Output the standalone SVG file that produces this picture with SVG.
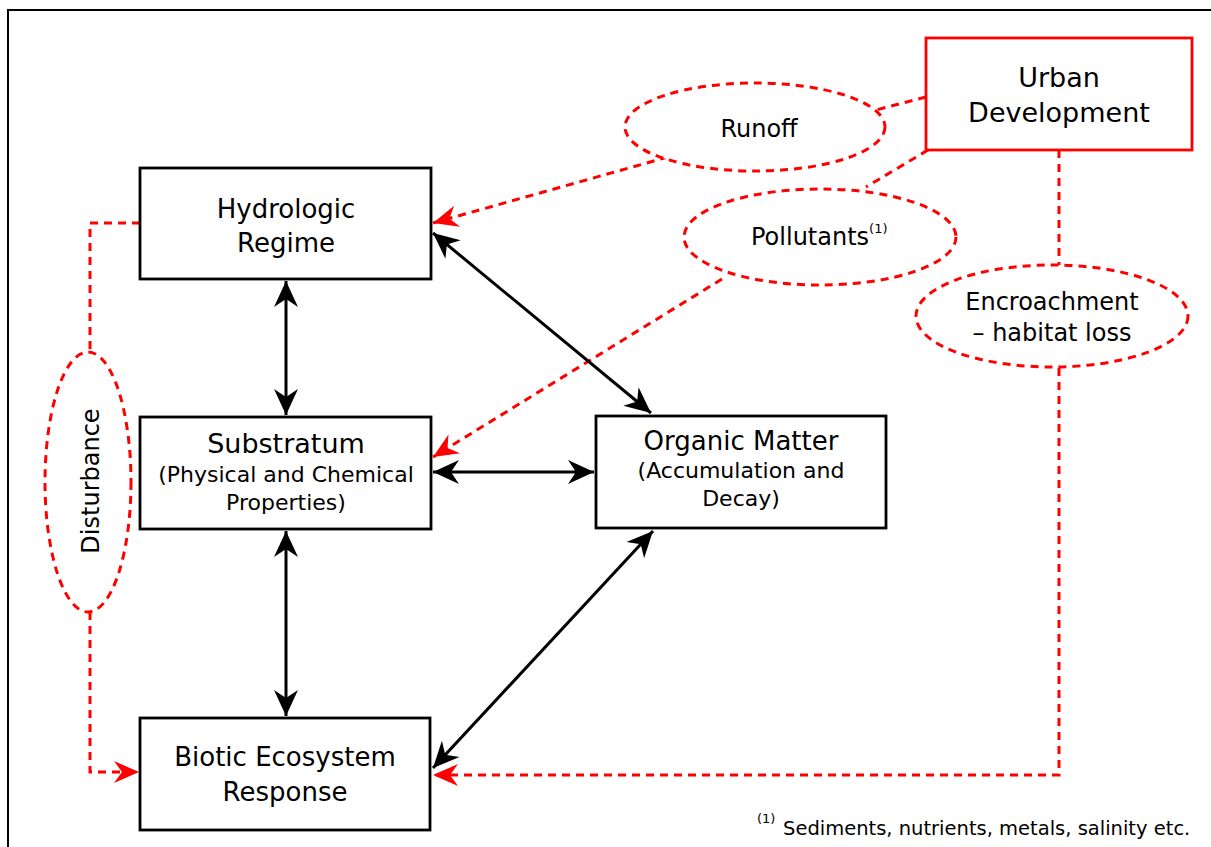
<svg xmlns="http://www.w3.org/2000/svg" width="1211" height="847" viewBox="0 0 1211 847">
<style>
text{font-family:"DejaVu Sans","Liberation Sans",sans-serif;fill:#000;text-anchor:middle}
.box{fill:#fff;stroke:#000;stroke-width:2.8}
.ubox{fill:#fff;stroke:#f00;stroke-width:2.8}
.ell{fill:#fff;stroke:#f00;stroke-width:3;stroke-dasharray:8 6}
.red{fill:none;stroke:#f00;stroke-width:3;stroke-dasharray:8 6}
.blk{fill:none;stroke:#000;stroke-width:3}
.t1{font-size:26px}
.t2{font-size:22px}
.t3{font-size:24px}
.sup{font-size:13px}
</style>
<defs>
<marker id="ab" viewBox="-28 -13 30 26" refX="0" refY="0" markerWidth="30" markerHeight="26" markerUnits="userSpaceOnUse" orient="auto-start-reverse">
<path d="M0,0 L-26,-12 L-18,0 L-26,12 Z" fill="#000"/>
</marker>
<marker id="ar" viewBox="-28 -13 30 26" refX="0" refY="0" markerWidth="30" markerHeight="26" markerUnits="userSpaceOnUse" orient="auto">
<path d="M0,0 L-25,-11 L-17,0 L-25,11 Z" fill="#f00"/>
</marker>
</defs>
<rect x="8" y="10" width="1220" height="860" fill="#fff" stroke="#000" stroke-width="2"/>

<g id="connectors">
<line class="red" x1="926" y1="97" x2="876" y2="110"/>
<line class="red" x1="928" y1="150" x2="866" y2="187"/>
<line class="red" x1="1059" y1="150" x2="1059" y2="265"/>
<line class="red" x1="668" y1="157" x2="433" y2="223" marker-end="url(#ar)"/>
<line class="red" x1="722" y1="279" x2="433" y2="457" marker-end="url(#ar)"/>
<polyline class="red" points="1059,368 1059,775 433,775" marker-end="url(#ar)"/>
<polyline class="red" points="140,223 90,223 90,352"/>
<polyline class="red" points="90,612 90,772 139,772" marker-end="url(#ar)"/>
<line class="blk" x1="286" y1="281" x2="286" y2="415" marker-start="url(#ab)" marker-end="url(#ab)"/>
<line class="blk" x1="286" y1="531" x2="286" y2="716" marker-start="url(#ab)" marker-end="url(#ab)"/>
<line class="blk" x1="433" y1="472" x2="594" y2="472" marker-start="url(#ab)" marker-end="url(#ab)"/>
<line class="blk" x1="433" y1="233" x2="651" y2="413" marker-start="url(#ab)" marker-end="url(#ab)"/>
<line class="blk" x1="653" y1="531" x2="433" y2="768" marker-start="url(#ab)" marker-end="url(#ab)"/>
</g>

<g id="hydrologic">
<rect class="box" x="140" y="168" width="291" height="111"/>
<text class="t1" x="286" y="218">Hydrologic</text>
<text class="t1" x="286" y="252">Regime</text>
</g>
<g id="substratum">
<rect class="box" x="140" y="417" width="291" height="112"/>
<text x="286" y="453" style="font-size:27px">Substratum</text>
<text class="t2" x="286" y="482">(Physical and Chemical</text>
<text class="t2" x="286" y="510">Properties)</text>
</g>
<g id="organic">
<rect class="box" x="596" y="416" width="290" height="112"/>
<text class="t1" x="741" y="450">Organic Matter</text>
<text class="t2" x="741" y="478">(Accumulation and</text>
<text class="t2" x="741" y="506">Decay)</text>
</g>
<g id="biotic">
<rect class="box" x="140" y="718" width="290" height="112"/>
<text class="t1" x="285" y="766">Biotic Ecosystem</text>
<text class="t1" x="285" y="801">Response</text>
</g>
<g id="urban">
<rect class="ubox" x="926" y="38" width="266" height="112"/>
<text x="1059" y="87" style="font-size:27px">Urban</text>
<text x="1059" y="122" style="font-size:27px">Development</text>
</g>
<g id="runoff">
<ellipse class="ell" cx="755" cy="127" rx="130" ry="44"/>
<text class="t3" x="759" y="137">Runoff</text>
</g>
<g id="pollutants">
<ellipse class="ell" cx="820" cy="237" rx="136" ry="48"/>
<text class="t3" x="751" y="245" style="text-anchor:start">Pollutants<tspan class="sup" dy="-12">(1)</tspan></text>
</g>
<g id="encroachment">
<ellipse class="ell" cx="1052" cy="316" rx="136" ry="51"/>
<text class="t3" x="1052" y="310">Encroachment</text>
<text class="t3" x="1052" y="341">– habitat loss</text>
</g>
<g id="disturbance">
<ellipse class="ell" cx="88" cy="482" rx="43" ry="130"/>
<text class="t3" x="0" y="0" transform="translate(99,481) rotate(-90)">Disturbance</text>
</g>
<g id="footnote">
<text x="757" y="823" style="font-size:13px;text-anchor:start">(1)</text>
<text x="783" y="835" style="font-size:19.5px;text-anchor:start">Sediments, nutrients, metals, salinity etc.</text>
</g>
</svg>
